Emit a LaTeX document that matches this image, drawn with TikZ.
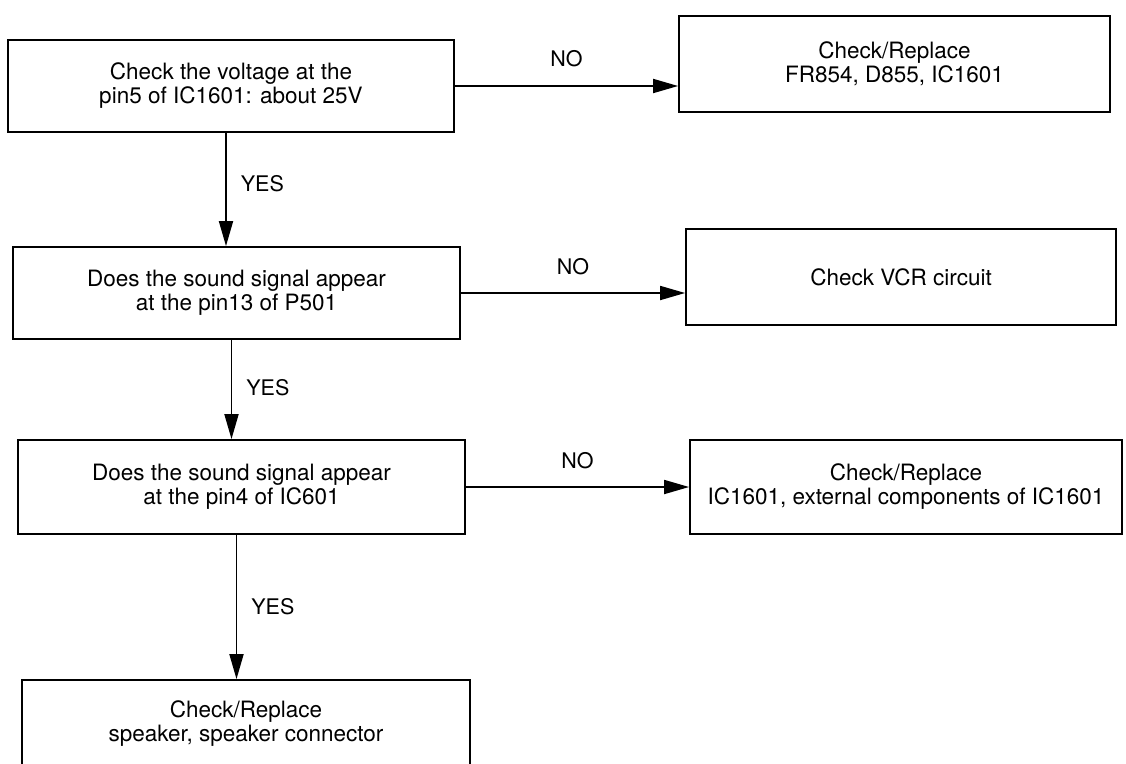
\documentclass[tikz,border=0pt]{standalone}
\usepackage{fontspec}
\setmainfont{TeX Gyre Heros}
\usetikzlibrary{arrows.meta,calc}
\begin{document}
\begin{tikzpicture}[x=1pt,y=-1pt,
  box/.style={draw, line width=1.8pt, align=center, inner sep=0pt,
    font=\fontsize{22.5}{24}\selectfont},
  lbl/.style={font=\fontsize{21.5}{24}\selectfont, inner sep=0pt},
  flow/.style={line width=1.8pt, -{Triangle[length=25pt,width=14pt]}}]
\useasboundingbox (0,0) rectangle (1126,763);
\clip (0,0) rectangle (1126,763);

% question boxes (left column)
\node[box, minimum width=446pt, minimum height=92pt] (b1) at (231,86)
  {Check the voltage at the\\pin5 of IC1601: about 25V};
\node[box, minimum width=447pt, minimum height=92pt] (b3) at (236.5,293)
  {Does the sound signal appear\\at the pin13 of P501};
\node[box, minimum width=447pt, minimum height=94pt] (b5) at (241.5,487)
  {Does the sound signal appear\\at the pin4 of IC601};
\node[box, minimum width=448pt, minimum height=88pt] (b7) at (246,724)
  {Check/Replace\\speaker, speaker connector};

% action boxes (right column)
\node[box, minimum width=431pt, minimum height=96pt] (b2) at (894.5,64)
  {Check/Replace\\FR854, D855, IC1601};
\node[box, minimum width=430pt, minimum height=96pt] (b4) at (901,277)
  {Check VCR circuit};
\node[box, minimum width=432pt, minimum height=94pt] (b6) at (906,487)
  {Check/Replace\\IC1601, external components of IC1601};

% NO branches
\draw[flow] (b1.east) -- node[lbl, midway, above=18pt] {NO} (b1.east -| b2.west);
\draw[flow] (b3.east) -- node[lbl, midway, above=17pt] {NO} (b3.east -| b4.west);
\draw[flow] (b5.east) -- node[lbl, midway, above=17pt] {NO} (b5.east -| b6.west);

% YES branches
\draw[flow] ([xshift=-5pt]b1.south) -- node[lbl, pos=0.45, right=14pt] {YES} ([xshift=-5pt]b1.south |- b3.north);
\draw[flow] ([xshift=-5pt]b3.south) -- node[lbl, pos=0.48, right=14pt] {YES} ([xshift=-5pt]b3.south |- b5.north);
\draw[flow] ([xshift=-5pt]b5.south) -- node[lbl, pos=0.5, right=14pt] {YES} ([xshift=-5pt]b5.south |- b7.north);
\end{tikzpicture}
\end{document}
